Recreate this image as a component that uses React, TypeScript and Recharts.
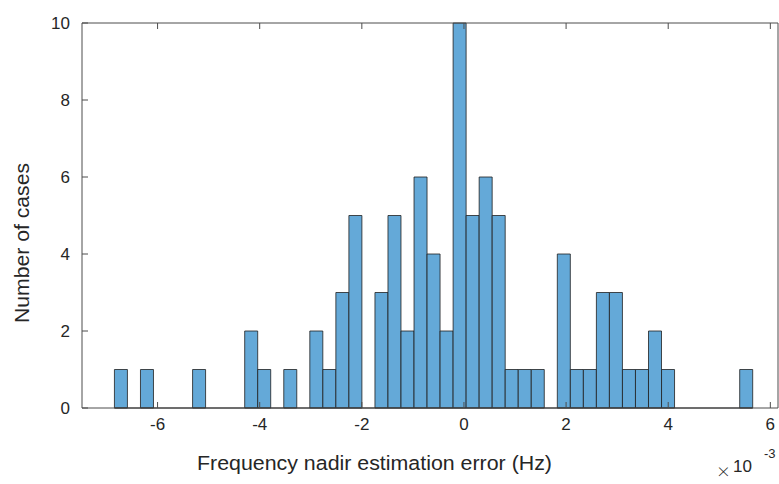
import { BarChart, Bar, XAxis, YAxis, ReferenceLine, Label } from "recharts";

// histogram of estimation errors (x in 1e-3 Hz)
const binStart = -6.845;
const binWidth = 0.2551;
const counts = [
  1, 0, 1, 0, 0, 0, 1, 0, 0, 0, 2, 1, 0, 1, 0, 2, 1, 3, 5, 0, 3, 5, 2, 6, 4,
  2, 10, 5, 6, 5, 1, 1, 1, 0, 4, 1, 1, 3, 3, 1, 1, 2, 1, 0, 0, 0, 0, 0, 1,
];
const xTicks = [-6, -4, -2, 0, 2, 4, 6];
const yTicks = [0, 2, 4, 6, 8, 10];
const xDomain: [number, number] = [-7.48, 6.15];
const yDomain: [number, number] = [0, 10];

const FONT = '"Liberation Sans", Arial, Helvetica, sans-serif';
const TEXT = "#262626";
const AXIS = "#4d4d4d";

const W = 779;
const H = 484;
const LEFT = 82;
const RIGHT = 1;

const data = counts.map((c, i) => ({
  center: binStart + (i + 0.5) * binWidth,
  count: c,
}));
const binEnd = binStart + counts.length * binWidth;

// the original figure was stretched sideways, so titles get a fixed length
const XTitle = () => (
  <text
    x={197}
    y={470}
    fill={TEXT}
    fontFamily={FONT}
    fontSize={20.5}
    textLength={355}
    lengthAdjust="spacingAndGlyphs"
  >
    Frequency nadir estimation error (Hz)
  </text>
);

const YTitle = () => (
  <text
    x={29}
    y={243}
    transform="rotate(-90 29 243)"
    textAnchor="middle"
    fill={TEXT}
    fontFamily={FONT}
    fontSize={20}
    textLength={160}
    lengthAdjust="spacingAndGlyphs"
  >
    Number of cases
  </text>
);

const ExponentLabel = () => (
  <g fill={TEXT} fontFamily={FONT}>
    <text x={717} y={479} fontSize={22} fontFamily="Lato, sans-serif" fontWeight={300}>
      ×
    </text>
    <text x={733} y={472} fontSize={17}>
      10
    </text>
    <text x={764} y={458} fontSize={13}>
      -3
    </text>
  </g>
);

export default function App() {
  return (
    <div style={{ position: "absolute", left: 0, top: 0, width: W, height: H, background: "#fff" }}>
      <BarChart
        width={W}
        height={H}
        data={data}
        margin={{ top: 22, right: 0, bottom: 0, left: 0 }}
        barCategoryGap={0}
        barGap={0}
        style={{ fontFamily: FONT }}
      >
        <XAxis
          xAxisId="b"
          dataKey="center"
          type="number"
          domain={xDomain}
          ticks={xTicks}
          allowDataOverflow
          height={76}
          tickSize={-6}
          tickMargin={16}
          stroke={AXIS}
          tick={{ fill: TEXT, fontSize: 17 }}
        >
          <Label content={<XTitle />} />
          <Label content={<ExponentLabel />} />
        </XAxis>
        <XAxis
          xAxisId="t"
          orientation="top"
          dataKey="center"
          type="number"
          domain={xDomain}
          ticks={xTicks}
          allowDataOverflow
          height={1}
          tickSize={-6}
          stroke={AXIS}
          tickFormatter={() => ""}
        />
        <YAxis
          yAxisId="l"
          type="number"
          domain={yDomain}
          ticks={yTicks}
          width={LEFT}
          tickSize={-6}
          tickMargin={18}
          stroke={AXIS}
          tick={{ fill: TEXT, fontSize: 17 }}
        >
          <Label content={<YTitle />} />
        </YAxis>
        <YAxis
          yAxisId="r"
          orientation="right"
          type="number"
          domain={yDomain}
          ticks={yTicks}
          width={RIGHT}
          tickSize={-6}
          stroke={AXIS}
          tickFormatter={() => ""}
        />
        <Bar
          xAxisId="b"
          yAxisId="l"
          dataKey="count"
          fill="#64A9D8"
          stroke="#1f1f1f"
          strokeWidth={0.8}
          isAnimationActive={false}
        />
        <ReferenceLine
          xAxisId="b"
          yAxisId="l"
          segment={[
            { x: binStart, y: 0 },
            { x: binEnd, y: 0 },
          ]}
          stroke="#1f1f1f"
          strokeWidth={1}
        />
      </BarChart>
    </div>
  );
}
